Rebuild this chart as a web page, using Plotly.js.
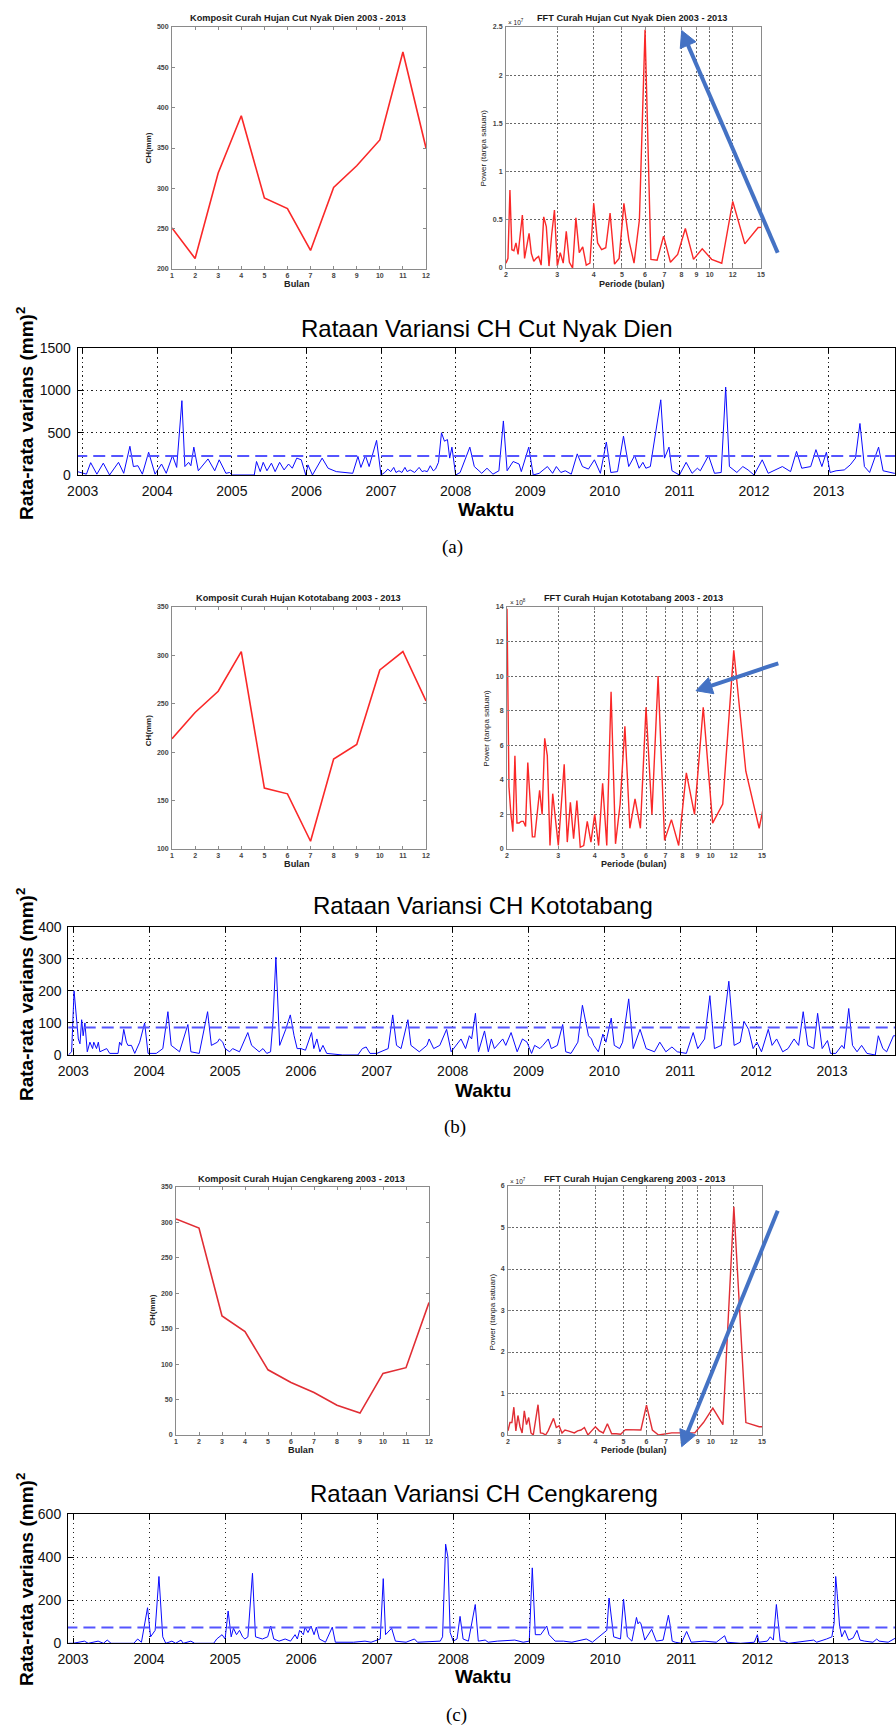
<!DOCTYPE html>
<html><head><meta charset="utf-8">
<script src="https://cdn.plot.ly/plotly-3.0.1.min.js"></script>
<style>html,body{margin:0;padding:0;background:#fff;} #chart{width:896px;height:1725px;}</style>
</head><body><div id="chart"></div>
<script>
// ---------------- DATA ----------------
const months = [1,2,3,4,5,6,7,8,9,10,11,12];
const kompositCND = [251, 213, 319, 390, 288, 275, 223, 301, 328, 360, 469, 350];
const kompositKTB = [214, 241, 263, 304, 163, 157, 108, 193, 208, 285, 304, 253];
const kompositCGK = [305, 292, 168, 146, 92, 74, 60, 42, 31, 87, 95, 187];

const periods = [2.000, 2.031, 2.063, 2.095, 2.129, 2.164, 2.200, 2.237, 2.276, 2.316,
  2.357, 2.400, 2.444, 2.491, 2.538, 2.588, 2.640, 2.694, 2.750, 2.809,
  2.870, 2.933, 3.000, 3.070, 3.143, 3.220, 3.300, 3.385, 3.474, 3.568,
  3.667, 3.771, 3.882, 4.000, 4.125, 4.258, 4.400, 4.552, 4.714, 4.889,
  5.077, 5.280, 5.500, 5.739, 6.000, 6.286, 6.600, 6.947, 7.333, 7.765,
  8.250, 8.800, 9.429, 10.154, 11.000, 12.000, 13.200, 14.667, 16.500];
// power in units of 1e7
const fftCND = [0.05, 0.10, 0.81, 0.19, 0.18, 0.26, 0.14, 0.35, 0.55, 0.10,
  0.25, 0.36, 0.15, 0.07, 0.10, 0.12, 0.03, 0.53, 0.43, 0.02,
  0.35, 0.60, 0.02, 0.16, 0.05, 0.38, 0.06, 0.00, 0.52, 0.16,
  0.22, 0.03, 0.05, 0.67, 0.26, 0.19, 0.21, 0.57, 0.04, 0.10,
  0.67, 0.29, 0.05, 0.50, 2.47, 0.09, 0.08, 0.33, 0.06, 0.14,
  0.41, 0.09, 0.20, 0.09, 0.05, 0.69, 0.25, 0.42, 0.43];
// power in units of 1e8
const fftKTB = [13.9, 3.6, 2.0, 1.0, 5.4, 1.5, 1.5, 1.6, 1.6, 1.3,
  5.0, 2.5, 0.7, 0.7, 2.0, 3.4, 2.0, 6.4, 5.4, 0.2,
  3.2, 1.6, 0.2, 2.5, 4.9, 0.4, 2.7, 0.6, 2.8, 0.1,
  0.2, 1.6, 0.4, 2.0, 0.2, 3.8, 0.2, 9.1, 0.3, 2.6,
  7.1, 1.2, 2.9, 1.2, 8.2, 2.0, 10.0, 0.5, 1.7, 0.2,
  4.4, 2.0, 8.2, 1.5, 2.6, 11.5, 4.5, 1.2, 5.5];
// power in units of 1e7
const fftCGK = [0.1, 0.3, 0.3, 0.67, 0.1, 0.47, 0.2, 0.05, 0.58, 0.25,
  0.42, 0.05, 0.0, 0.35, 0.73, 0.05, 0.04, 0.0, 0.1, 0.25,
  0.40, 0.18, 0.22, 0.05, 0.12, 0.10, 0.07, 0.05, 0.10, 0.12,
  0.18, 0.0, 0.1, 0.2, 0.1, 0.05, 0.27, 0.03, 0.03, 0.02,
  0.13, 0.13, 0.12, 0.12, 0.72, 0.12, 0.0, 0.03, 0.05, 0.05,
  0.05, 0.05, 0.3, 0.65, 0.25, 5.5, 0.3, 0.2, 0.2];

const periodTicks = [2,3,4,5,6,7,8,9,10,12,15];
const yearTicks = [2003,2004,2005,2006,2007,2008,2009,2010,2011,2012,2013];
const yearLabels = ['2003','2004','2005','2006','2007','2008','2009','2010','2011','2012','2013'];

const tCND = [2002.93, 2003.00, 2003.05, 2003.107, 2003.19, 2003.276, 2003.36, 2003.48, 2003.55, 2003.633,
  2003.68, 2003.74, 2003.80, 2003.884, 2003.97, 2004.057, 2004.12, 2004.204, 2004.26, 2004.33,
  2004.37, 2004.42, 2004.45, 2004.49, 2004.55, 2004.68, 2004.77, 2004.83, 2004.92, 2004.97, 2005.00,
  2005.30, 2005.33, 2005.38, 2005.42, 2005.47, 2005.53, 2005.58, 2005.64, 2005.70, 2005.76,
  2005.81, 2005.87, 2005.93, 2005.99, 2006.02, 2006.08, 2006.21, 2006.29, 2006.40, 2006.50,
  2006.62, 2006.69, 2006.73, 2006.79, 2006.84, 2006.94, 2007.00,
  2007.05, 2007.09, 2007.13, 2007.17, 2007.20, 2007.24, 2007.28, 2007.32, 2007.35, 2007.39,
  2007.45, 2007.51, 2007.55, 2007.58, 2007.62, 2007.66, 2007.70, 2007.73, 2007.77, 2007.81,
  2007.85, 2007.89, 2007.92, 2007.95, 2008.00,
  2008.06, 2008.19, 2008.25, 2008.35, 2008.42, 2008.50, 2008.58, 2008.64, 2008.69, 2008.77,
  2008.85, 2008.88, 2008.98, 2009.04,
  2009.12, 2009.23, 2009.30, 2009.35, 2009.41, 2009.47, 2009.55, 2009.63, 2009.70, 2009.78,
  2009.86, 2009.94, 2010.02,
  2010.08, 2010.17, 2010.25, 2010.32, 2010.40, 2010.46, 2010.51, 2010.55, 2010.61, 2010.67,
  2010.75, 2010.80, 2010.86, 2010.90, 2011.00,
  2011.09, 2011.17, 2011.24, 2011.28, 2011.39, 2011.47, 2011.56, 2011.62, 2011.67, 2011.77,
  2011.85, 2011.92, 2012.00,
  2012.11, 2012.19, 2012.30, 2012.38, 2012.49, 2012.57, 2012.64, 2012.76, 2012.83, 2012.91,
  2012.97, 2013.02,
  2013.10, 2013.21, 2013.29, 2013.36, 2013.42, 2013.48, 2013.55, 2013.67, 2013.73, 2013.82,
  2013.88, 2014.00];
const vCND = [40, 20, 10, 146, 10, 140, 0, 150, 20, 340,
  100, 110, 10, 270, 10, 130, 20, 230, 90, 880,
  100, 150, 110, 330, 50, 190, 50, 180, 20, 30, 0,
  0, 160, 40, 150, 50, 140, 40, 150, 60, 130,
  80, 200, 180, 0, 120, 0, 200, 80, 40, 30,
  20, 220, 90, 230, 100, 410, 0,
  30, 70, 40, 90, 30, 50, 30, 90, 40, 60,
  30, 90, 40, 50, 40, 110, 50, 70, 150, 500,
  400, 420, 200, 330, 0,
  30, 330, 100, 20, 80, 10, 50, 640, 50, 160,
  130, 40, 330, 0,
  20, 100, 20, 100, 30, 50, 10, 250, 100, 70,
  180, 20, 390,
  30, 40, 460, 100, 230, 80, 150, 80, 100, 420,
  890, 200, 330, 50, 0,
  150, 20, 80, 50, 230, 20, 30, 1040, 100, 30,
  100, 60, 0,
  180, 20, 70, 100, 40, 280, 80, 100, 300, 100,
  270, 30,
  50, 60, 120, 200, 610, 100, 30, 330, 50, 30,
  20, 20];
const meanCND = 225;

const tKTB = [2002.934, 2002.978, 2003.01, 2003.044, 2003.066, 2003.088, 2003.11, 2003.13, 2003.153, 2003.184,
  2003.219, 2003.254, 2003.27, 2003.306, 2003.33, 2003.35, 2003.44, 2003.48, 2003.59, 2003.61,
  2003.635, 2003.665, 2003.70, 2003.72, 2003.766, 2003.81, 2003.875, 2003.94, 2003.985, 2004.094,
  2004.18, 2004.247, 2004.29, 2004.40, 2004.51, 2004.55, 2004.66, 2004.77, 2004.82, 2004.90,
  2004.925, 2004.97, 2005.00, 2005.06, 2005.10, 2005.19, 2005.30,
  2005.35, 2005.45, 2005.50, 2005.55, 2005.60, 2005.63, 2005.67, 2005.72, 2005.80, 2005.86,
  2005.91, 2005.95, 2006.00, 2006.06, 2006.14, 2006.17, 2006.21, 2006.25, 2006.29, 2006.34,
  2006.55, 2006.75, 2006.81, 2006.86, 2006.91, 2007.00,
  2007.15, 2007.21, 2007.26, 2007.32, 2007.41, 2007.45, 2007.56, 2007.66, 2007.69, 2007.75,
  2007.83, 2007.92, 2007.98,
  2008.05, 2008.11, 2008.17, 2008.22, 2008.25, 2008.30, 2008.34, 2008.42, 2008.47, 2008.51,
  2008.55, 2008.66, 2008.70, 2008.77, 2008.85, 2008.92, 2008.98,
  2009.04, 2009.08, 2009.15, 2009.19, 2009.26, 2009.30, 2009.38, 2009.45, 2009.49, 2009.56,
  2009.65, 2009.71, 2009.79, 2009.83, 2009.86, 2009.92, 2009.98,
  2010.02, 2010.09, 2010.13, 2010.20, 2010.24, 2010.32, 2010.38, 2010.47, 2010.55, 2010.66,
  2010.73, 2010.81, 2010.89, 2010.96,
  2011.08, 2011.17, 2011.23, 2011.32, 2011.39, 2011.45, 2011.54, 2011.64, 2011.71, 2011.79,
  2011.84, 2011.90, 2011.96,
  2012.01, 2012.07, 2012.16, 2012.21, 2012.27, 2012.35, 2012.42, 2012.50, 2012.56, 2012.62,
  2012.68, 2012.76, 2012.81, 2012.87, 2012.94, 2012.98,
  2013.05, 2013.13, 2013.16, 2013.22, 2013.27, 2013.33, 2013.39, 2013.46, 2013.57, 2013.61,
  2013.67, 2013.72, 2013.81, 2013.90];
const vKTB = [0, 10, 200, 100, 50, 35, 110, 60, 100, 10,
  40, 20, 40, 20, 40, 10, 20, 5, 5, 40,
  30, 80, 40, 30, 30, 5, 40, 100, 5, 5,
  20, 135, 30, 10, 95, 10, 5, 135, 30, 40,
  50, 40, 20, 10, 20, 10, 70,
  30, 10, 20, 5, 10, 100, 305, 30, 80, 125,
  60, 20, 20, 15, 70, 20, 50, 10, 30, 5,
  0, 0, 20, 25, 5, 5,
  20, 125, 30, 20, 110, 30, 10, 30, 50, 20,
  30, 80, 10,
  30, 50, 20, 60, 50, 130, 10, 75, 10, 50,
  20, 50, 30, 70, 10, 50, 40,
  5, 30, 20, 30, 50, 20, 30, 95, 10, 5,
  40, 155, 60, 50, 30, 10, 65,
  40, 115, 30, 20, 40, 175, 20, 80, 20, 10,
  40, 10, 25, 10,
  5, 70, 20, 50, 185, 20, 30, 230, 30, 40,
  105, 80, 20,
  40, 10, 80, 30, 50, 10, 20, 50, 30, 135,
  30, 20, 130, 20, 45, 5,
  5, 30, 20, 145, 30, 10, 30, 5, 0, 60,
  20, 10, 60, 60];
const meanKTB = 86;

const tCGK = [2002.94, 2003.0, 2003.15, 2003.2, 2003.33, 2003.4, 2003.45, 2003.5, 2003.8, 2003.85,
  2003.9, 2003.98, 2004.02, 2004.08, 2004.13, 2004.18, 2004.22, 2004.3, 2004.35, 2004.42,
  2004.45, 2004.55, 2004.6,
  2004.85, 2004.89, 2004.96, 2005.0, 2005.04, 2005.08, 2005.11, 2005.15, 2005.19, 2005.23,
  2005.26, 2005.3, 2005.36, 2005.4, 2005.49, 2005.56, 2005.6, 2005.64, 2005.71, 2005.79,
  2005.86, 2005.92, 2005.95,
  2005.98, 2006.03, 2006.05, 2006.09, 2006.13, 2006.17, 2006.2, 2006.24, 2006.32, 2006.41,
  2006.45, 2006.69, 2006.84, 2006.92,
  2007.04, 2007.08, 2007.11, 2007.19, 2007.24, 2007.38, 2007.49, 2007.53, 2007.83, 2007.86,
  2007.9, 2007.93, 2007.96, 2008.0,
  2008.05, 2008.09, 2008.13, 2008.2, 2008.29, 2008.33, 2008.42, 2008.46, 2008.58, 2008.81,
  2008.92,
  2009.0, 2009.04, 2009.08, 2009.15, 2009.23, 2009.26, 2009.34, 2009.45, 2009.56, 2009.75,
  2009.83,
  2010.02, 2010.05, 2010.11, 2010.2, 2010.24, 2010.29, 2010.35, 2010.41, 2010.43, 2010.45,
  2010.47, 2010.52, 2010.61, 2010.67, 2010.76, 2010.83, 2010.85, 2010.88, 2010.92, 2011.0,
  2011.07, 2011.1, 2011.13, 2011.3, 2011.46, 2011.57, 2011.6, 2011.78, 2011.96,
  2012.0, 2012.02, 2012.13, 2012.17, 2012.21, 2012.23, 2012.25, 2012.27, 2012.3, 2012.35,
  2012.41, 2012.74, 2012.78, 2012.91, 2012.98,
  2013.01, 2013.03, 2013.05, 2013.08, 2013.11, 2013.15, 2013.2, 2013.26, 2013.31, 2013.35,
  2013.41, 2013.52, 2013.57, 2013.6, 2013.72, 2013.78, 2013.82, 2013.9];
const vCGK = [0, 0, 10, 0, 10, 0, 15, 0, 0, 20,
  5, 165, 30, 60, 310, 30, 0, 10, 0, 15,
  0, 10, 0,
  0, 20, 40, 20, 150, 30, 70, 40, 60, 30,
  20, 30, 325, 30, 20, 30, 80, 20, 10, 20,
  10, 40, 20,
  60, 40, 75, 50, 80, 40, 75, 20, 5, 75,
  5, 5, 10, 5,
  20, 300, 40, 70, 10, 5, 20, 5, 10, 30,
  460, 400, 50, 10,
  20, 125, 20, 10, 180, 10, 15, 5, 10, 15,
  5,
  10, 350, 40, 40, 80, 40, 10, 10, 5, 20,
  5,
  60, 210, 30, 20, 205, 30, 10, 120, 90, 100,
  90, 15, 65, 10, 15, 130, 90, 10, 5, 0,
  55, 30, 5, 10, 5, 35, 5, 0, 5,
  40, 5, 10, 30, 15, 95, 180, 110, 10, 10,
  0, 15, 5, 20, 30,
  95, 310, 230, 85, 30, 60, 15, 25, 60, 15,
  10, 5, 20, 10, 5, 15, 25, 25];
const meanCGK = 73;

// ---------------- LAYOUT HELPERS ----------------
const W = 896, H = 1725;
const FONT = '"Liberation Sans", Arial, Helvetica, sans-serif';
const SERIF = '"Liberation Serif", "Times New Roman", serif';
const dX = (l, r) => [l / W, r / W];
const dY = (t, b) => [1 - b / H, 1 - t / H];
const px = x => x / W;
const py = y => 1 - y / H;

function smallAxis(domain, range, extra) {
  return Object.assign({
    domain: domain, range: range, showline: true, linecolor: '#8a8a8a', linewidth: 1,
    mirror: 'ticks', ticks: 'inside', ticklen: 3, tickcolor: '#8a8a8a', tickwidth: 1,
    tickfont: {family: FONT, size: 7, color: '#444', weight: 'bold'},
    showgrid: false, zeroline: false, fixedrange: true, ticklabelstandoff: 1
  }, extra || {});
}
function fftGrid(extra) {
  return Object.assign({showgrid: true, gridcolor: '#666', griddash: '2px,2px', gridwidth: 1}, extra);
}
function bigAxis(domain, range, extra) {
  return Object.assign({
    domain: domain, range: range, showline: true, linecolor: '#000', linewidth: 1,
    mirror: 'ticks', ticks: 'inside', ticklen: 5, tickcolor: '#000', tickwidth: 1,
    tickfont: {family: FONT, size: 14, color: '#111'},
    showgrid: true, gridcolor: '#222', griddash: '1.3px,3.2px', gridwidth: 1,
    zeroline: false, fixedrange: true, ticklabelstandoff: 3
  }, extra || {});
}

const red = 'rgb(250,40,40)';
const red3 = 'rgb(225,45,52)';
const blue = 'rgb(10,10,255)';
const dashBlue = 'rgb(85,85,255)';

const traces = [
  {x: months, y: kompositCND, xaxis: 'x', yaxis: 'y', mode: 'lines', line: {color: red, width: 1.6}},
  {x: periods, y: fftCND, xaxis: 'x2', yaxis: 'y2', mode: 'lines', line: {color: red, width: 1.4}},
  {x: tCND, y: vCND, xaxis: 'x3', yaxis: 'y3', mode: 'lines', line: {color: blue, width: 1}},
  {x: [2002.9, 2014.1], y: [meanCND, meanCND], xaxis: 'x3', yaxis: 'y3', mode: 'lines', line: {color: dashBlue, width: 2, dash: '12px,6px'}},
  {x: months, y: kompositKTB, xaxis: 'x4', yaxis: 'y4', mode: 'lines', line: {color: red, width: 1.6}},
  {x: periods, y: fftKTB, xaxis: 'x5', yaxis: 'y5', mode: 'lines', line: {color: red, width: 1.4}},
  {x: tKTB, y: vKTB, xaxis: 'x6', yaxis: 'y6', mode: 'lines', line: {color: blue, width: 1}},
  {x: [2002.9, 2014.1], y: [meanKTB, meanKTB], xaxis: 'x6', yaxis: 'y6', mode: 'lines', line: {color: dashBlue, width: 2, dash: '12px,6px'}},
  {x: months, y: kompositCGK, xaxis: 'x7', yaxis: 'y7', mode: 'lines', line: {color: red3, width: 1.6}},
  {x: periods, y: fftCGK, xaxis: 'x8', yaxis: 'y8', mode: 'lines', line: {color: red3, width: 1.4}},
  {x: tCGK, y: vCGK, xaxis: 'x9', yaxis: 'y9', mode: 'lines', line: {color: blue, width: 1}},
  {x: [2002.9, 2014.1], y: [meanCGK, meanCGK], xaxis: 'x9', yaxis: 'y9', mode: 'lines', line: {color: dashBlue, width: 2, dash: '12px,6px'}}
];
traces.forEach(t => { t.hoverinfo = 'skip'; t.showlegend = false; t.cliponaxis = true; });

const logRange = [Math.log10(2), Math.log10(15)];
const fftX = (dom, anchor) => smallAxis(dom, logRange, fftGrid({type: 'log', tickvals: periodTicks, ticktext: periodTicks.map(String), anchor: anchor, ticklabelstandoff: 0}));
const fftY = (dom, range, dtick, anchor) => smallAxis(dom, range, fftGrid({dtick: dtick, anchor: anchor}));
const kompX = (dom, anchor) => smallAxis(dom, [1, 12], {dtick: 1, anchor: anchor, ticklabelstandoff: 0});

const layout = {
  width: W, height: H, margin: {l: 0, r: 0, t: 0, b: 0},
  paper_bgcolor: '#fff', plot_bgcolor: '#fff', showlegend: false,
  font: {family: FONT},
  // panel (a)
  xaxis: kompX(dX(172, 426), 'y'),
  yaxis: smallAxis(dY(27, 269), [200, 500], {dtick: 50, anchor: 'x'}),
  xaxis2: fftX(dX(506, 761), 'y2'),
  yaxis2: fftY(dY(27, 268), [0, 2.5], 0.5, 'x2'),
  xaxis3: bigAxis(dX(77.7, 895), [2002.933, 2013.89], {tickvals: yearTicks, ticktext: yearLabels, anchor: 'y3'}),
  yaxis3: bigAxis(dY(348.3, 475), [0, 1500], {dtick: 500, anchor: 'x3'}),
  // panel (b)
  xaxis4: kompX(dX(172, 426), 'y4'),
  yaxis4: smallAxis(dY(607, 849), [100, 350], {dtick: 50, anchor: 'x4'}),
  xaxis5: fftX(dX(507, 762), 'y5'),
  yaxis5: fftY(dY(607, 849), [0, 14], 2, 'x5'),
  xaxis6: bigAxis(dX(68.3, 895), [2002.934, 2013.83], {tickvals: yearTicks, ticktext: yearLabels, anchor: 'y6'}),
  yaxis6: bigAxis(dY(926.7, 1055), [0, 400], {dtick: 100, anchor: 'x6'}),
  // panel (c)
  xaxis7: kompX(dX(176, 429), 'y7'),
  yaxis7: smallAxis(dY(1187, 1435), [0, 350], {dtick: 50, anchor: 'x7'}),
  xaxis8: fftX(dX(508, 762), 'y8'),
  yaxis8: fftY(dY(1186, 1435), [0, 6], 1, 'x8'),
  xaxis9: bigAxis(dX(68, 895), [2002.934, 2013.81], {tickvals: yearTicks, ticktext: yearLabels, anchor: 'y9'}),
  yaxis9: bigAxis(dY(1514, 1643.3), [0, 600], {dtick: 200, anchor: 'x9'}),
  annotations: [],
  shapes: []
};

function ann(text, x, y, size, opts) {
  layout.annotations.push(Object.assign({
    text: text, x: px(x), y: py(y), xref: 'paper', yref: 'paper',
    xanchor: 'center', yanchor: 'middle', showarrow: false,
    font: {family: FONT, size: size, color: '#111'}
  }, opts || {}));
}

// small panel texts
const smallTitles = [
  ['Komposit Curah Hujan Cut Nyak Dien 2003 - 2013', 298, 18.3],
  ['FFT Curah Hujan Cut Nyak Dien 2003 - 2013', 632, 18.3],
  ['Komposit Curah Hujan Kototabang 2003 - 2013', 298.3, 598.3],
  ['FFT Curah Hujan Kototabang 2003 - 2013', 633.8, 598.3],
  ['Komposit Curah Hujan Cengkareng 2003 - 2013', 301.7, 1179],
  ['FFT Curah Hujan Cengkareng 2003 - 2013', 634, 1178.5]
];
smallTitles.forEach(s => ann('<b>' + s[0] + '</b>', s[1], s[2], 9.2, {font: {family: FONT, size: 9.2, color: '#1a1a1a'}}));

[[148.3, 148.3], [148.3, 731], [151.7, 1310]].forEach(p => ann('<b>CH(mm)</b>', p[0], p[1], 8, {textangle: -90, font: {family: FONT, size: 8, color: '#222'}}));
[[297, 284], [297, 864], [300.5, 1449.5]].forEach(p => ann('<b>Bulan</b>', p[0], p[1], 9.2, {font: {family: FONT, size: 9.2, color: '#222'}}));
[[483.3, 148.3], [486.7, 728], [492.7, 1311.7]].forEach(p => ann('Power (tanpa satuan)', p[0], p[1], 8, {textangle: -90, font: {family: FONT, size: 8, color: '#222'}}));
[[632, 284], [633.7, 864], [634, 1449.5]].forEach(p => ann('<b>Periode (bulan)</b>', p[0], p[1], 9, {font: {family: FONT, size: 9, color: '#222'}}));
[['7', 506, 21.5], ['8', 508, 601.5], ['7', 508, 1181]].forEach(p => ann('× 10<sup>' + p[0] + '</sup>', p[1], p[2], 6.5, {xanchor: 'left', font: {family: FONT, size: 6.5, color: '#222'}}));

// big panel texts
const bigTitles = [
  ['Rataan Variansi CH Cut Nyak Dien', 487, 328.3],
  ['Rataan Variansi CH Kototabang', 483, 905],
  ['Rataan Variansi CH Cengkareng', 484.3, 1493.3]
];
bigTitles.forEach(s => ann(s[0], s[1], s[2], 24, {font: {family: FONT, size: 24, color: '#000'}}));
[[25, 414], [25, 995], [25, 1580]].forEach(p => ann('<b>Rata-rata varians (mm)<sup>2</sup></b>', p[0], p[1], 19, {textangle: -90, font: {family: FONT, size: 19, color: '#000'}}));
[[486, 509.3], [483, 1090], [483, 1676.7]].forEach(p => ann('<b>Waktu</b>', p[0], p[1], 19, {font: {family: FONT, size: 19, color: '#000'}}));
[['(a)', 453, 547], ['(b)', 455, 1127], ['(c)', 456, 1715]].forEach(p => ann(p[0], p[1], p[2], 19, {font: {family: SERIF, size: 19, color: '#000'}}));

// arrows
const arrowColor = 'rgb(68,114,196)';
function arrow(tail, tip) {
  const vx = tip[0] - tail[0], vy = tip[1] - tail[1];
  const L = Math.hypot(vx, vy), ux = vx / L, uy = vy / L;
  const hl = 16, hw = 8.5;
  const bx = tip[0] - ux * hl, by = tip[1] - uy * hl;
  const nx = -uy, ny = ux;
  layout.shapes.push({type: 'line', xref: 'paper', yref: 'paper',
    x0: px(tail[0]), y0: py(tail[1]), x1: px(bx + ux * 2), y1: py(by + uy * 2),
    line: {color: arrowColor, width: 4}});
  const p1 = [bx + nx * hw, by + ny * hw], p2 = [bx - nx * hw, by - ny * hw];
  layout.shapes.push({type: 'path', xref: 'paper', yref: 'paper',
    path: 'M ' + px(tip[0]) + ' ' + py(tip[1]) + ' L ' + px(p1[0]) + ' ' + py(p1[1]) + ' L ' + px(p2[0]) + ' ' + py(p2[1]) + ' Z',
    fillcolor: arrowColor, line: {color: arrowColor, width: 1}});
}
arrow([777.7, 252.7], [681.7, 30.5]);
arrow([778.3, 663.3], [696, 690.7]);
arrow([777.7, 1210.7], [681.7, 1446.7]);

Plotly.newPlot('chart', traces, layout, {staticPlot: true, displayModeBar: false});
</script>
</body></html>
